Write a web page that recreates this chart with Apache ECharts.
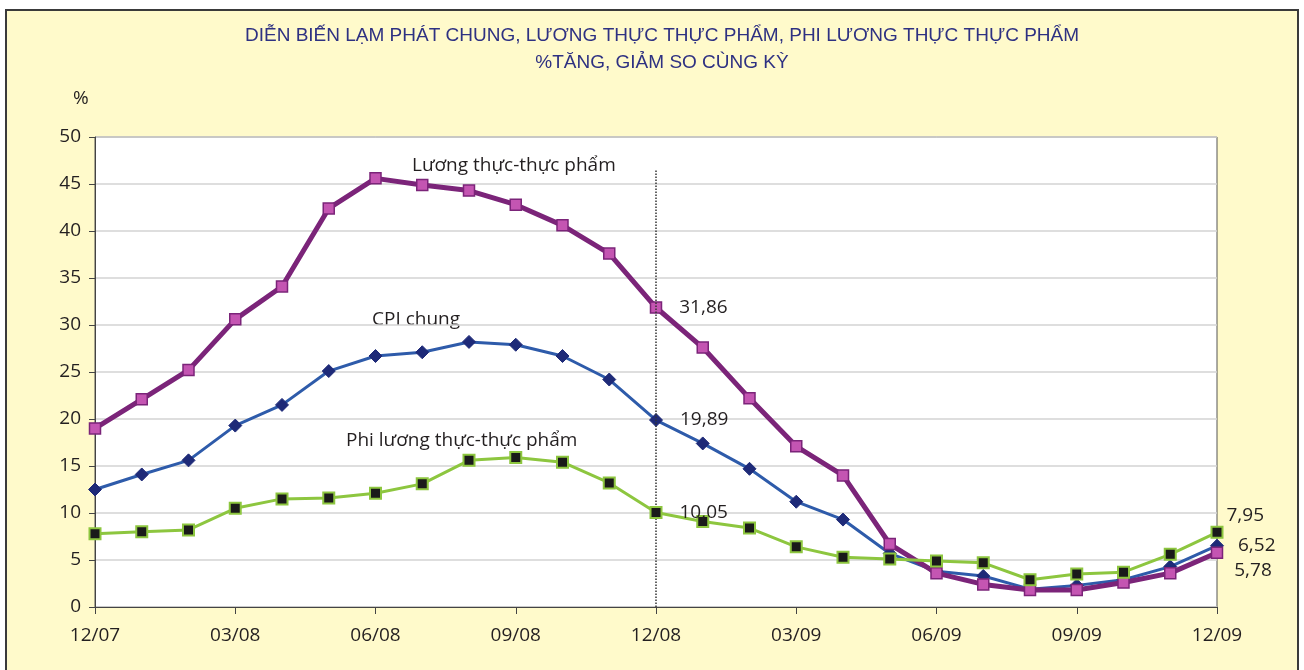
<!DOCTYPE html>
<html><head><meta charset="utf-8">
<script src="https://cdn.jsdelivr.net/npm/echarts@6/dist/echarts.min.js"></script>
<style>html,body{margin:0;padding:0;background:#fff}#c{width:1304px;height:670px}</style>
</head><body><div id="c"></div>
<script>
const categories = ['12/07','01/08','02/08','03/08','04/08','05/08','06/08','07/08','08/08','09/08','10/08','11/08','12/08',
  '01/09','02/09','03/09','04/09','05/09','06/09','07/09','08/09','09/09','10/09','11/09','12/09'];
const foodValues = [19.0,22.1,25.2,30.6,34.1,42.4,45.6,44.9,44.3,42.8,40.6,37.6,31.86,27.6,22.2,17.1,14.0,6.7,3.6,2.4,1.8,1.8,2.6,3.6,5.78];
const cpiValues = [12.5,14.1,15.6,19.3,21.5,25.1,26.7,27.1,28.2,27.9,26.7,24.2,19.89,17.4,14.7,11.2,9.3,5.7,3.8,3.3,1.9,2.3,2.9,4.3,6.52];
const nonFoodValues = [7.8,8.0,8.2,10.5,11.5,11.6,12.1,13.1,15.6,15.9,15.4,13.2,10.05,9.1,8.4,6.4,5.3,5.1,4.9,4.7,2.9,3.5,3.7,5.6,7.95];
const labelIdx = [12, 24];
const yTicks = [0,5,10,15,20,25,30,35,40,45,50];
const titleLines = ['DIỄN BIẾN LẠM PHÁT CHUNG, LƯƠNG THỰC THỰC PHẨM, PHI LƯƠNG THỰC THỰC PHẨM','%TĂNG, GIẢM SO CÙNG KỲ'];
const seriesNames = ['Lương thực-thực phẩm','CPI chung','Phi lương thực-thực phẩm'];

const FONT = '"Open Sans", "Noto Sans", sans-serif';
const TXT = '#231F20';
const FS = 19;
function fmt(v){ return v.toFixed(2).replace('.', ','); }
function withLabels(vals, offsets){
  return vals.map((v,i)=>{
    const k = labelIdx.indexOf(i);
    if (k < 0) return v;
    return {value: v, label: {show: true, position: 'right', distance: 0, offset: offsets[k],
      formatter: fmt(v), color: TXT, fontSize: FS, fontFamily: FONT}};
  });
}
function note(text, x, y){
  return {type:'text', style:{text:text, x:x, y:y, textVerticalAlign:'middle', font:FS+'px '+FONT, fill:TXT}};
}

const chart = echarts.init(document.getElementById('c'), null, {renderer:'canvas'});
chart.setOption({
  backgroundColor: '#fff',
  animation: false,
  graphic: [
    {type:'rect', z:-10, shape:{x:6,y:10,width:1292,height:680}, style:{fill:'#FFFACB', stroke:'#3a3a3a', lineWidth:2}},
    {type:'text', style:{text:titleLines[0], x:662, y:36, textAlign:'center', textVerticalAlign:'middle', font:'19px "Liberation Sans", sans-serif', fill:'#2E3182'}},
    {type:'text', style:{text:titleLines[1], x:662, y:63, textAlign:'center', textVerticalAlign:'middle', font:'19px "Liberation Sans", sans-serif', fill:'#2E3182'}},
    note('%', 73, 99),
    note(seriesNames[0], 412, 166),
    note(seriesNames[1], 372, 320),
    note(seriesNames[2], 346, 441)
  ],
  grid: {left:95, right:87, top:137, bottom:63, show:true, backgroundColor:'#fff', borderColor:'#555', borderWidth:1},
  xAxis: {
    type:'category', data:categories, boundaryGap:false,
    axisLine:{lineStyle:{color:'#444', width:1}},
    axisTick:{interval:2, length:7, lineStyle:{color:'#444'}},
    axisLabel:{interval:2, color:TXT, fontSize:FS, fontFamily:FONT, margin:19},
    splitLine:{show:false}
  },
  yAxis: {
    type:'value', min:0, max:50, interval:5,
    axisLine:{show:true, lineStyle:{color:'#444', width:1}},
    axisTick:{show:true, length:6, lineStyle:{color:'#444'}},
    axisLabel:{color:TXT, fontSize:FS, fontFamily:FONT, margin:14,
      formatter:(v)=> yTicks.includes(v) ? String(v) : ''},
    splitLine:{lineStyle:{color:'#D3D3D3', width:1.5}}
  },
  series: [
    {name:seriesNames[1], type:'line', data:withLabels(cpiValues, [[17,0],[14,0]]),
      lineStyle:{color:'#2E5BAA', width:3}, symbol:'diamond', symbolSize:13,
      itemStyle:{color:'#1E2A78', borderColor:'#1E2A78'}, z:3},
    {name:seriesNames[0], type:'line', data:withLabels(foodValues, [[17,0],[11,18]]),
      lineStyle:{color:'#7B2479', width:5}, symbol:'rect', symbolSize:11,
      itemStyle:{color:'#C455B2', borderColor:'#7B2479', borderWidth:1.5}, z:4,
      markLine:{silent:true, symbol:'none', label:{show:false},
        lineStyle:{type:'dotted', color:'#333', width:1.5},
        data:[[{coord:['12/08',0]},{coord:['12/08',46.6]}]]}},
    {name:seriesNames[2], type:'line', data:withLabels(nonFoodValues, [[17,0],[3,-17]]),
      lineStyle:{color:'#8DC63F', width:3}, symbol:'rect', symbolSize:11,
      itemStyle:{color:'#1A1A1A', borderColor:'#8DC63F', borderWidth:2}, z:5}
  ]
});
</script></body></html>
